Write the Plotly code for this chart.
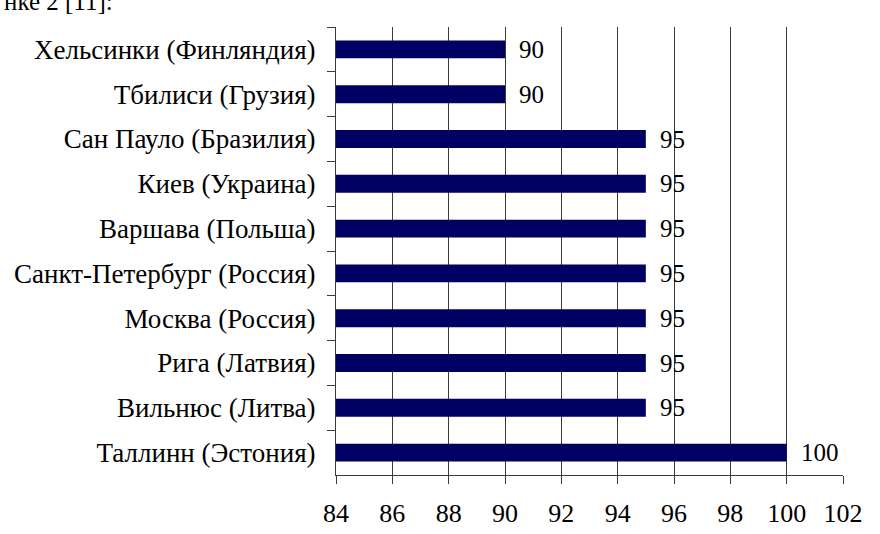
import plotly.graph_objects as go

cities = [
    "Хельсинки (Финляндия)",
    "Тбилиси (Грузия)",
    "Сан Пауло (Бразилия)",
    "Киев (Украина)",
    "Варшава (Польша)",
    "Санкт-Петербург (Россия)",
    "Москва (Россия)",
    "Рига (Латвия)",
    "Вильнюс (Литва)",
    "Таллинн (Эстония)",
]
values = [90, 90, 95, 95, 95, 95, 95, 95, 95, 100]
x_ticks = [84, 86, 88, 90, 92, 94, 96, 98, 100, 102]

FONT = "Times New Roman"
LINE = "#3a3a3a"

fig = go.Figure()
fig.add_trace(go.Bar(
    y=cities,
    x=values,
    orientation="h",
    marker=dict(color="#000062", line=dict(width=0)),
    hoverinfo="skip",
))

for c, v in zip(cities, values):
    fig.add_annotation(
        x=v, y=c, xref="x", yref="y",
        text=str(v), showarrow=False,
        xanchor="left", yanchor="middle", xshift=12,
        font=dict(family=FONT, size=25, color="black"),
    )

fig.add_annotation(
    x=0, y=1.058, xref="paper", yref="paper",
    text="нке 2 [11]:", showarrow=False,
    xanchor="left", yanchor="middle", xshift=-334,
    font=dict(family=FONT, size=25, color="black"),
)

fig.update_layout(
    width=880, height=534,
    margin=dict(l=336, r=37, t=27, b=59, autoexpand=False),
    paper_bgcolor="white",
    plot_bgcolor="white",
    showlegend=False,
    bargap=0.6,
    font=dict(family=FONT, size=25, color="black"),
)
fig.update_xaxes(
    range=[84, 102],
    tickvals=x_ticks,
    ticktext=[str(t) for t in x_ticks],
    showgrid=True, gridcolor=LINE, gridwidth=1,
    showline=True, linecolor=LINE, linewidth=1,
    ticks="outside", ticklen=8, tickcolor=LINE,
    tickfont=dict(family=FONT, size=26, color="black"),
    zeroline=False,
    ticklabelstandoff=7,
)
fig.update_yaxes(
    categoryorder="array", categoryarray=cities,
    autorange="reversed",
    showgrid=False,
    showline=True, linecolor=LINE, linewidth=1,
    ticks="outside", ticklen=8, tickcolor=LINE,
    tickson="boundaries",
    tickfont=dict(family=FONT, size=27, color="black"),
    ticklabelstandoff=14,
)

fig.write_html(
    "out.html",
    config={"displayModeBar": False},
    post_script="document.body.style.margin='0px';",
)
